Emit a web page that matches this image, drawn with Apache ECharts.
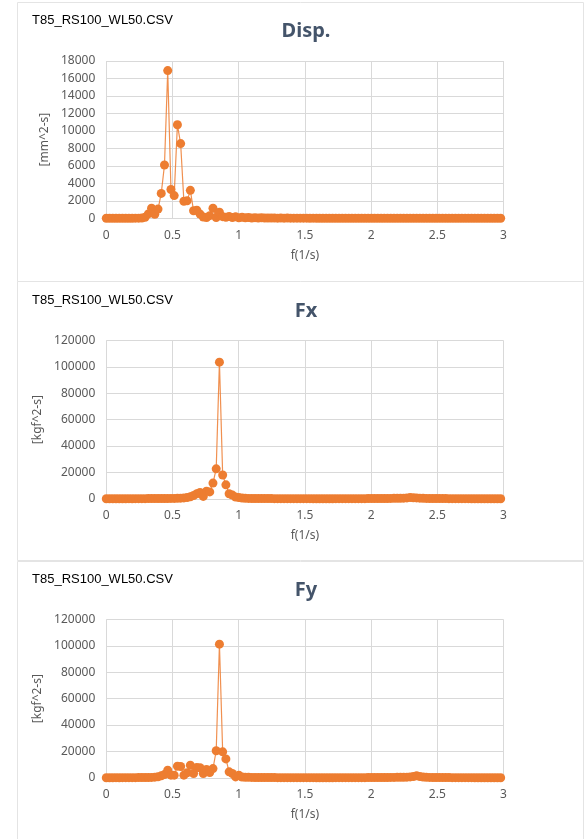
<!DOCTYPE html>
<html>
<head>
<meta charset="utf-8">
<script src="https://cdn.jsdelivr.net/npm/echarts@6/dist/echarts.min.js"></script>
<style>
  html, body { margin: 0; padding: 0; background: #ffffff; }
  #chart { width: 584px; height: 839px; }
</style>
</head>
<body>
<div id="chart"></div>
<script>
// FFT spectra of one test record: displacement and two force channels.
const fileName = 'T85_RS100_WL50.CSV';
const panelTitles = ['Disp.', 'Fx', 'Fy'];
const yAxisNames = ['[mm^2-s]', '[kgf^2-s]', '[kgf^2-s]'];
const xAxisName = 'f(1/s)';

// Frequency bins are spaced by 1/40.96 Hz, bins 0..122
const freqStep = 1 / 40.96;

const dispValues = [
  5, 4, 6, 5, 7, 6, 8, 10, 12, 15, 20, 40,
  120, 500, 1150, 450, 1050, 2850, 6100, 16900, 3300, 2600,
  10700, 8550, 1950, 2000, 3200, 860, 920, 480, 150, 80,
  300, 1150, 80, 700, 190, 110, 220, 90, 170, 60,
  110, 50, 90, 40, 70, 30, 60, 25, 40, 30,
  25, 20, 30, 20, 25, 15, 20, 15, 20, 15,
  15, 12, 15, 12, 10, 12, 10, 10, 12, 10,
  10, 8, 10, 8, 10, 8, 8, 10, 8, 8,
  10, 8, 8, 6, 8, 8, 6, 8, 6, 6,
  8, 6, 6, 8, 6, 6, 5, 6, 5, 6,
  5, 5, 6, 5, 5, 4, 5, 5, 4, 5,
  4, 4, 5, 4, 4, 4, 3, 4, 3, 3,
  3
];

const fxValues = [
  60, 50, 60, 70, 60, 80, 70, 90, 80, 100, 110, 120,
  130, 140, 150, 160, 180, 200, 220, 250, 280, 300,
  400, 500, 700, 900, 1500, 2500, 3800, 4800, 1800, 5800,
  5200, 11900, 22700, 103600, 18000, 10600, 3800, 2800, 1300, 900,
  600, 400, 300, 250, 220, 200, 180, 160, 150, 140,
  130, 120, 120, 110, 110, 100, 100, 100, 90, 90,
  90, 90, 80, 80, 80, 80, 80, 80, 80, 90,
  90, 90, 100, 100, 100, 110, 110, 120, 130, 140,
  150, 160, 180, 200, 220, 250, 300, 350, 400, 450,
  500, 700, 900, 800, 700, 500, 400, 300, 250, 200,
  180, 160, 150, 140, 130, 120, 110, 100, 100, 90,
  90, 80, 80, 80, 70, 70, 70, 60, 60, 60,
  60
];

const fyValues = [
  80, 70, 80, 90, 80, 100, 90, 110, 120, 130, 150, 170,
  200, 250, 300, 500, 800, 1500, 2500, 5800, 2000, 2000,
  8800, 8600, 2000, 3800, 9600, 3300, 7800, 7600, 3300, 6300,
  4000, 7000, 20500, 101300, 19700, 14300, 4500, 3300, 700, 2000,
  600, 400, 350, 300, 250, 220, 200, 180, 160, 150,
  140, 130, 120, 120, 110, 110, 100, 100, 100, 90,
  90, 90, 90, 80, 80, 80, 80, 80, 80, 90,
  90, 90, 100, 100, 100, 110, 110, 120, 130, 140,
  150, 160, 180, 200, 220, 250, 280, 300, 350, 400,
  450, 500, 700, 900, 1500, 900, 600, 400, 300, 250,
  200, 180, 160, 150, 140, 130, 120, 110, 100, 100,
  90, 90, 80, 80, 80, 70, 70, 70, 60, 60,
  60
];

const yMaxes = [18000, 120000, 120000];
const yIntervals = [2000, 20000, 20000];

const seriesValues = [dispValues, fxValues, fyValues];

const ORANGE = '#ED7D31';
const GRID_LINE = '#D9D9D9';
const LABEL = '#595959';
const FONT = '"Noto Sans", "DejaVu Sans", sans-serif';

// Vertical layout of the three stacked panels
const panelTop = [2, 281, 561];
const panelHeight = 279;
const gridOffset = [0, 280, 559];

const chart = echarts.init(document.getElementById('chart'), null, { renderer: 'canvas' });

const grids = [], xAxes = [], yAxes = [], series = [], titles = [], graphics = [];

for (let p = 0; p < 3; p++) {
  const off = gridOffset[p];
  grids.push({ left: 106.3, top: 61 + off - (p ? 0.5 : 0), width: 397.2, height: p ? 158.3 : 157.3 });

  xAxes.push({
    gridIndex: p, type: 'value', min: 0, max: 3, interval: 0.5,
    name: xAxisName, nameLocation: 'middle', nameGap: 31,
    nameTextStyle: { color: LABEL, fontSize: 12, fontFamily: FONT },
    axisLine: { show: true, lineStyle: { color: GRID_LINE, width: 1 } },
    axisTick: { show: false },
    axisLabel: { color: LABEL, fontSize: 12, fontFamily: FONT, margin: 11 },
    splitLine: { show: true, lineStyle: { color: GRID_LINE, width: 1 } }
  });

  yAxes.push({
    gridIndex: p, type: 'value', min: 0, max: yMaxes[p], interval: yIntervals[p],
    name: yAxisNames[p], nameLocation: 'middle', nameGap: p ? 61 : 48, nameRotate: 90,
    nameTextStyle: { color: LABEL, fontSize: 12, fontFamily: FONT },
    axisLine: { show: false },
    axisTick: { show: false },
    axisLabel: { color: LABEL, fontSize: 12, fontFamily: FONT, margin: 11, formatter: v => String(v) },
    splitLine: { show: true, lineStyle: { color: GRID_LINE, width: 1 } }
  });

  series.push({
    type: 'line', xAxisIndex: p, yAxisIndex: p,
    data: seriesValues[p].map((v, i) => [i * freqStep, v]),
    symbol: 'circle', symbolSize: 9, showSymbol: true,
    lineStyle: { color: ORANGE, width: 1.2, opacity: 0.85 },
    itemStyle: { color: ORANGE },
    animation: false
  });

  titles.push({
    text: panelTitles[p], left: 301, top: 16 + off, textAlign: 'center',
    textStyle: { color: '#44546A', fontSize: 20, fontWeight: 'bold', fontFamily: FONT }
  });
  titles.push({
    text: fileName, left: 27, top: 9 + off,
    textStyle: { color: '#000000', fontSize: 13, fontWeight: 'normal', fontFamily: '"Liberation Sans", Arial, sans-serif' }
  });

  graphics.push({
    type: 'rect', silent: true, z: -10,
    shape: { x: 17.5, y: panelTop[p] + 0.5, width: 566, height: panelHeight },
    style: { fill: '#ffffff', stroke: '#E4E4E4', lineWidth: 1 }
  });
}

chart.setOption({
  backgroundColor: '#ffffff',
  animation: false,
  title: titles,
  grid: grids,
  xAxis: xAxes,
  yAxis: yAxes,
  series: series,
  graphic: graphics
});
</script>
</body>
</html>
